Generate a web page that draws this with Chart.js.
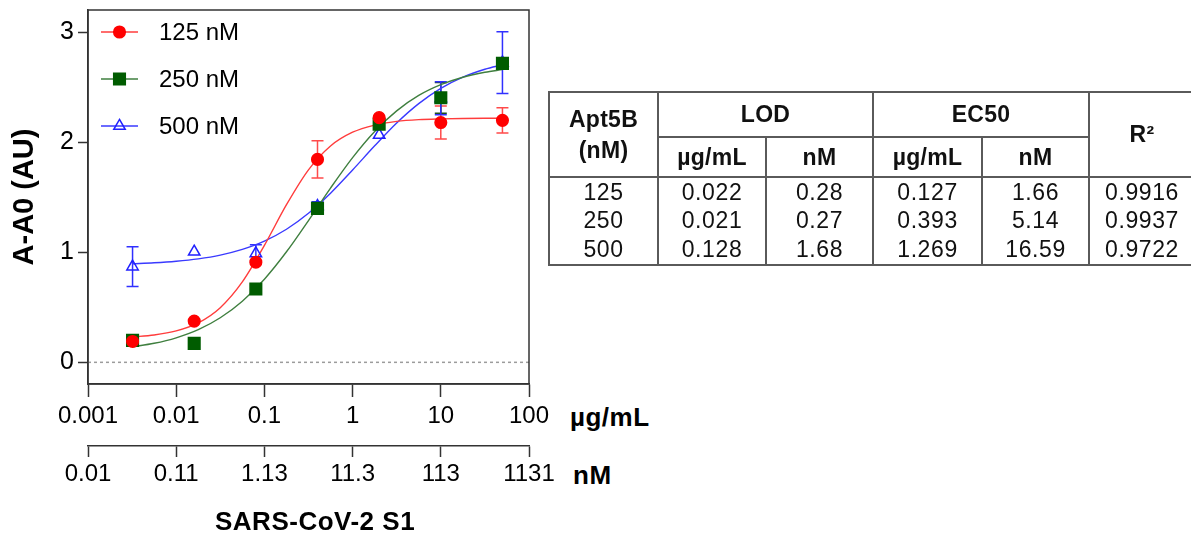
<!DOCTYPE html>
<html>
<head>
<meta charset="utf-8">
<script src="https://cdn.jsdelivr.net/npm/chart.js@4.4.1/dist/chart.umd.min.js"></script>
<style>
  html, body { margin: 0; padding: 0; width: 1191px; height: 533px; overflow: hidden; background: #fff; }
  body { font-family: "Liberation Sans", Arial, sans-serif; color: #000; position: relative; }
  #wrap { position: absolute; left: 0; top: 0; width: 560px; height: 533px; }
  .lbl { position: absolute; font-weight: bold; font-size: 26px; line-height: 1; white-space: nowrap; letter-spacing: 0.5px; }
  #tbl { position: absolute; left: 548px; top: 91px; border-collapse: collapse; table-layout: fixed; width: 646px; }
  #tbl td, #tbl th { border: 2px solid #5a5a5a; padding: 0; text-align: center; vertical-align: middle; font-size: 23px; line-height: 1; color: #111; letter-spacing: 0.6px; }
  #tbl th { font-weight: bold; letter-spacing: 0.3px; }
  #tbl tbody td { border-top: none; border-bottom: none; }
  #tbl tbody tr:last-child td { border-bottom: 2px solid #5a5a5a; }
</style>
</head>
<body>
<div id="wrap"><canvas id="chart"></canvas></div>
<div class="lbl" style="left:570px; top:404px;">µg/mL</div>
<div class="lbl" style="left:573px; top:462px;">nM</div>
<div class="lbl" style="left:215px; top:508px;">SARS-CoV-2 S1</div>
<table id="tbl"></table>

<script>
// concentrations of S1 (µg/mL) for the measured points
const concUg = [0.0032, 0.016, 0.08, 0.4, 2, 10, 50];

// A-A0 means and error bars, per aptamer concentration
const y125 = [0.19, 0.375, 0.91, 1.845, 2.225, 2.18, 2.2];
const e125 = [0, 0, 0, 0.17, 0, 0.15, 0.115];
const y250 = [0.2, 0.172, 0.666, 1.40, 2.165, 2.405, 2.718];
const e250 = [0, 0, 0, 0, 0, 0.14, 0];
const y500 = [0.87, 1.005, 0.99, 1.42, 2.066, 2.40, 2.725];
const e500 = [0.18, 0, 0.08, 0.04, 0, 0.15, 0.28];

// fitted curves
const curveUg = [0.00316, 0.00562, 0.01, 0.0178, 0.0316, 0.0562, 0.1, 0.178, 0.316, 0.562, 1, 1.78, 3.16, 5.62, 10, 17.8, 31.6, 50];
const fit125 = [0.231, 0.249, 0.286, 0.359, 0.497, 0.731, 1.063, 1.433, 1.750, 1.967, 2.092, 2.157, 2.190, 2.206, 2.213, 2.217, 2.219, 2.219];
const fit250 = [0.140, 0.173, 0.223, 0.297, 0.405, 0.556, 0.756, 1.005, 1.289, 1.584, 1.861, 2.099, 2.286, 2.426, 2.524, 2.592, 2.637, 2.661];
const fit500 = [0.896, 0.905, 0.919, 0.941, 0.975, 1.027, 1.102, 1.210, 1.355, 1.538, 1.749, 1.968, 2.176, 2.352, 2.491, 2.593, 2.664, 2.704];

// axis ticks
const yTicks = [0, 1, 2, 3];
const ugTicks = [0.001, 0.01, 0.1, 1, 10, 100];
const ugTickLabels = ['0.001', '0.01', '0.1', '1', '10', '100'];
const nmTicks = [0.01131, 0.1131, 1.131, 11.31, 113.1, 1131];
const nmTickLabels = ['0.01', '0.11', '1.13', '11.3', '113', '1131'];

// table
const aptConc = ['125', '250', '500'];
const lodUg = ['0.022', '0.021', '0.128'];
const lodNm = ['0.28', '0.27', '1.68'];
const ec50Ug = ['0.127', '0.393', '1.269'];
const ec50Nm = ['1.66', '5.14', '16.59'];
const rSq = ['0.9916', '0.9937', '0.9722'];

const FONT = '"Liberation Sans", Arial, sans-serif';

const series = [
  { label: '125 nM', y: y125, err: e125, fit: fit125, style: 'circle', radius: 5.8,
    fill: '#ff0000', stroke: '#ff0000', line: '#ff3c3c', errColor: '#ff4a4a' },
  { label: '250 nM', y: y250, err: e250, fit: fit250, style: 'rect', radius: 8.2,
    fill: '#005c00', stroke: '#005c00', line: '#3f7f3f', errColor: '#1d4f1d' },
  { label: '500 nM', y: y500, err: e500, fit: fit500, style: 'triangle', radius: 6.6,
    fill: 'rgba(255,255,255,0)', stroke: '#2020ff', line: '#3a3aff', errColor: '#3030ff' }
];

const datasets = [];
series.forEach((s, i) => {
  datasets.push({
    label: s.label + ' fit',
    data: curveUg.map((x, j) => ({ x: x, y: s.fit[j] })),
    borderColor: s.line,
    borderWidth: 1.4,
    pointRadius: 0,
    cubicInterpolationMode: 'monotone',
    showLine: true,
    fill: false,
    order: 10 + i
  });
});
series.forEach((s, i) => {
  datasets.push({
    label: s.label,
    data: concUg.map((x, j) => ({ x: x, y: s.y[j] })),
    err: s.err,
    errColor: s.errColor,
    showLine: false,
    pointStyle: s.style,
    pointRadius: s.radius,
    pointHoverRadius: s.radius,
    pointBackgroundColor: s.fill,
    pointBorderColor: s.stroke,
    pointBorderWidth: 1.5,
    order: i
  });
});

function drawMarker(ctx, style, x, y, r, fill, stroke) {
  ctx.beginPath();
  if (style === 'circle') {
    ctx.arc(x, y, r, 0, Math.PI * 2);
  } else if (style === 'rect') {
    const s = r * Math.SQRT1_2;
    ctx.rect(x - s, y - s, 2 * s, 2 * s);
  } else {
    let a = 0;
    ctx.moveTo(x + Math.sin(a) * r, y - Math.cos(a) * r);
    a += 2 * Math.PI / 3;
    ctx.lineTo(x + Math.sin(a) * r, y - Math.cos(a) * r);
    a += 2 * Math.PI / 3;
    ctx.lineTo(x + Math.sin(a) * r, y - Math.cos(a) * r);
  }
  ctx.closePath();
  ctx.fillStyle = fill;
  ctx.fill();
  ctx.lineWidth = 1.5;
  ctx.strokeStyle = stroke;
  ctx.stroke();
}

const extras = {
  id: 'extras',
  beforeDatasetsDraw(chart) {
    const { ctx, chartArea: a, scales } = chart;
    const x = scales.x, y = scales.y;
    ctx.save();
    ctx.strokeStyle = '#9c9c9c';
    ctx.lineWidth = 1.5;
    ctx.setLineDash([3, 3]);
    const y0 = y.getPixelForValue(0);
    ctx.beginPath();
    ctx.moveTo(a.left, y0);
    ctx.lineTo(a.right, y0);
    ctx.stroke();
    ctx.restore();

    chart.data.datasets.forEach(ds => {
      if (!ds.err) return;
      ctx.save();
      ctx.strokeStyle = ds.errColor;
      ctx.lineWidth = 1.5;
      ds.data.forEach((p, j) => {
        const e = ds.err[j];
        if (!e) return;
        const px = x.getPixelForValue(p.x);
        const yt = y.getPixelForValue(p.y + e);
        const yb = y.getPixelForValue(p.y - e);
        ctx.beginPath();
        ctx.moveTo(px, yt); ctx.lineTo(px, yb);
        ctx.moveTo(px - 6, yt); ctx.lineTo(px + 6, yt);
        ctx.moveTo(px - 6, yb); ctx.lineTo(px + 6, yb);
        ctx.stroke();
      });
      ctx.restore();
    });
  },
  afterDraw(chart) {
    const { ctx, chartArea: a } = chart;
    ctx.save();
    ctx.strokeStyle = '#333';
    ctx.lineWidth = 1.5;
    ctx.strokeRect(a.left, a.top, a.right - a.left, a.bottom - a.top);

    // legend
    const rows = [32, 79, 126];
    series.forEach((s, i) => {
      const ly = rows[i];
      ctx.strokeStyle = s.line;
      ctx.lineWidth = 1.5;
      ctx.beginPath();
      ctx.moveTo(101, ly);
      ctx.lineTo(138, ly);
      ctx.stroke();
      drawMarker(ctx, s.style, 119.5, ly, s.radius, s.fill, s.stroke);
      ctx.fillStyle = '#000';
      ctx.font = '24px ' + FONT;
      ctx.textBaseline = 'middle';
      ctx.textAlign = 'left';
      ctx.fillText(s.label, 159, ly + 1);
    });
    ctx.restore();
  }
};

function noPad(s) {
  s.paddingTop = 0;
  s.paddingBottom = 0;
  s.paddingLeft = 0;
  s.paddingRight = 0;
}

new Chart(document.getElementById('chart'), {
  type: 'scatter',
  data: { datasets: datasets },
  options: {
    responsive: true,
    maintainAspectRatio: false,
    animation: false,
    layout: { padding: { left: 0, top: 10, right: 31, bottom: 0 } },
    plugins: { legend: { display: false }, tooltip: { enabled: false } },
    scales: {
      x: {
        type: 'logarithmic',
        position: 'bottom',
        weight: 1,
        min: 0.001,
        max: 100,
        afterBuildTicks: s => { s.ticks = ugTicks.map(v => ({ value: v })); },
        afterFit: s => { s.height = 62; noPad(s); },
        grid: { drawOnChartArea: false, tickLength: 13, tickColor: '#333', tickWidth: 1.5 },
        border: { color: '#333', width: 1.5 },
        ticks: {
          autoSkip: false, maxRotation: 0, padding: 5, color: '#000',
          font: { family: FONT, size: 24 },
          callback: (v, i) => ugTickLabels[i]
        }
      },
      x2: {
        type: 'logarithmic',
        position: 'bottom',
        weight: 2,
        min: nmTicks[0],
        max: nmTicks[nmTicks.length - 1],
        afterBuildTicks: s => { s.ticks = nmTicks.map(v => ({ value: v })); },
        afterFit: s => { s.height = 87; noPad(s); },
        grid: { drawOnChartArea: false, tickLength: 11, tickColor: '#333', tickWidth: 1.5 },
        border: { color: '#333', width: 1.5 },
        ticks: {
          autoSkip: false, maxRotation: 0, padding: 3, color: '#000',
          font: { family: FONT, size: 24 },
          callback: (v, i) => nmTickLabels[i]
        }
      },
      y: {
        type: 'linear',
        min: -0.197,
        max: 3.203,
        afterBuildTicks: s => { s.ticks = yTicks.map(v => ({ value: v })); },
        afterFit: s => { s.width = 88; noPad(s); },
        grid: { drawOnChartArea: false, tickLength: 10, tickColor: '#333', tickWidth: 1.5 },
        border: { color: '#333', width: 1.5 },
        ticks: { padding: 4, color: '#000', font: { family: FONT, size: 25 } },
        title: {
          display: true,
          text: 'A-A0 (AU)',
          color: '#000',
          font: { family: FONT, size: 29, weight: 'bold' },
          padding: { top: 8, bottom: 0 }
        }
      }
    }
  },
  plugins: [extras]
});

// table built from the arrays above
const colW = [109, 108, 107, 109, 107, 106];
let html = '<colgroup>' + colW.map(w => '<col style="width:' + w + 'px">').join('') + '</colgroup>';
html += '<thead><tr style="height:45px">' +
  '<th rowspan="2" style="line-height:31px">Apt5B<br>(nM)</th>' +
  '<th colspan="2">LOD</th><th colspan="2">EC50</th>' +
  '<th rowspan="2">R²</th></tr>' +
  '<tr style="height:40px"><th style="border-top:none">µg/mL</th><th style="border-top:none">nM</th>' +
  '<th style="border-top:none">µg/mL</th><th style="border-top:none">nM</th></tr></thead><tbody>';
const rowH = [29, 29, 30];
aptConc.forEach((c, i) => {
  html += '<tr style="height:' + rowH[i] + 'px"><td>' + c + '</td><td>' + lodUg[i] + '</td><td>' + lodNm[i] +
    '</td><td>' + ec50Ug[i] + '</td><td>' + ec50Nm[i] + '</td><td>' + rSq[i] + '</td></tr>';
});
html += '</tbody>';
document.getElementById('tbl').innerHTML = html;
</script>
</body>
</html>
